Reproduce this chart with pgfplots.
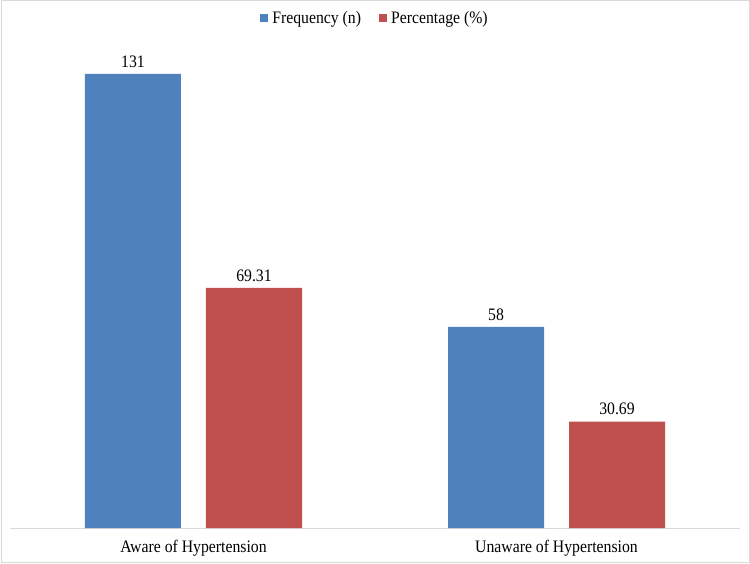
\documentclass[border=0pt]{standalone}
\usepackage{pgfplots}
\pgfplotsset{compat=1.18}
\usepackage{fontspec}
\setmainfont{Liberation Serif}[FakeStretch=0.9]
\definecolor{freqblue}{HTML}{4F81BD}
\definecolor{pctred}{HTML}{C0504D}
\definecolor{framegray}{HTML}{D9D9D9}
\begin{document}
\begin{tikzpicture}[x=1pt,y=1pt]
\useasboundingbox (0,0) rectangle (750,563);
% outer frame of the chart area
\draw[framegray, line width=0.8pt] (1.5,0.4) rectangle (749.6,562.6);
\begin{axis}[
  at={(10pt,35pt)}, anchor=south west,
  scale only axis,
  width=730pt, height=485.2pt,
  ymin=0, ymax=140,
  xmin=-0.5055, xmax=1.5055,
  ybar=25pt, bar width=96pt,
  axis y line=none,
  axis x line*=bottom,
  x axis line style={framegray, line width=0.8pt, -},
  xtick=data,
  xticklabels={Aware of Hypertension, Unaware of Hypertension},
  major tick length=0pt,
  xticklabel style={font=\fontsize{17.5}{20}\selectfont, yshift=-9pt},
  nodes near coords,
  point meta=explicit symbolic,
  every node near coord/.append style={font=\fontsize{17.5}{20}\selectfont, black, yshift=3pt},
  legend style={at={(0.5,1.051)}, anchor=center, draw=none, fill=none,
    inner sep=0pt, font=\fontsize{17.5}{20}\selectfont, legend columns=2,
    /tikz/every even column/.append style={column sep=16pt},
    /tikz/every odd column/.append style={column sep=2pt}},
  legend image code/.code={\fill[#1] (0pt,-4pt) rectangle (8pt,4pt);},
  clip=false,
]
\addplot[fill=freqblue, draw=none] coordinates {(0,131)[131] (1,58)[58]};
\addplot[fill=pctred, draw=none] coordinates {(0,69.31)[69.31] (1,30.69)[30.69]};
\legend{Frequency (n), Percentage (\%)}
\end{axis}
\end{tikzpicture}
\end{document}
